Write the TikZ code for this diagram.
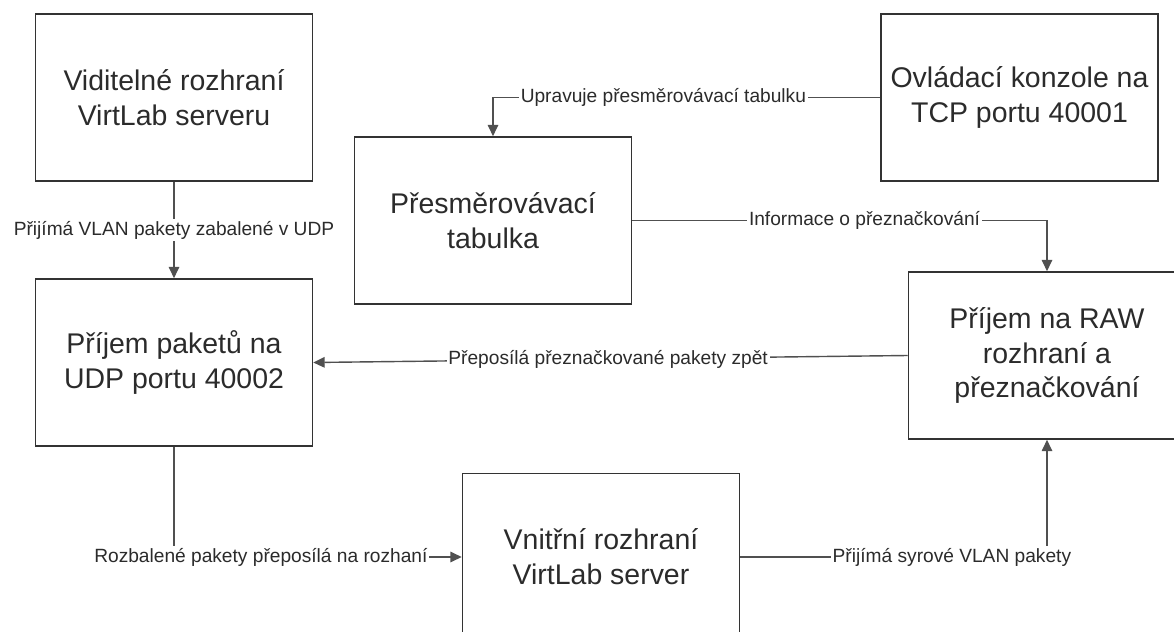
\documentclass[tikz,border=0pt]{standalone}
\usepackage{fontspec}
\setmainfont{Liberation Sans}
\usepackage{tikz}
\usetikzlibrary{arrows.meta}
\definecolor{linegray}{HTML}{505050}
\definecolor{textgray}{HTML}{2B2B2B}

\begin{document}
\begin{tikzpicture}[
            x=0.02cm, y=-0.02cm,          % 1 unit = 1 px of the reference
            every node/.style={
                rectangle,
                draw=black!80,
                line width=0.9pt,
                minimum width=5.54cm,
                minimum height=3.34cm,
                align=center,
                text=textgray,
                font=\fontsize{16.2}{19.9}\selectfont
            },
            >={Triangle[length=6.5pt,width=6pt]},
            arrow/.style={->, draw=linegray, line width=0.8pt},
            edgetext/.style={draw=none, fill=white, minimum width=0pt, minimum height=0pt,
                inner sep=1pt, font=\fontsize{10.9}{13}\selectfont}
        ]
            \useasboundingbox (0,0) rectangle (1174,632);
            \clip (0,0) rectangle (1174,632);

            % nodes
            \node (1) at (174,97.5) {Viditelné rozhraní\\VirtLab serveru};
            \node (2) at (1019.5,97.5) {Ovládací konzole na\\TCP portu 40001};
            \node (3) at (493,220.5) {Přesměrovávací\\tabulka};
            \node (4) at (174,362.5) {Příjem paketů na\\UDP portu 40002};
            \node (5) at (1047,355.5) {Příjem na RAW\\rozhraní a\\přeznačkování};  % cut at the right border
            \node (6) at (601,557) {Vnitřní rozhraní\\VirtLab server};             % cut at the bottom border

            % edges
            \draw[arrow] (1) -- node[edgetext] {Přijímá VLAN pakety zabalené v UDP} (4);
            \draw[arrow] (2.west) -- node[edgetext, pos=0.56] {Upravuje přesměrovávací tabulku} (3.north |- 2.west) -- (3.north);
            \draw[arrow] (3.east) -- node[edgetext, pos=0.56] {Informace o přeznačkování} (5.north |- 3.east) -- (5.north);
            \draw[arrow] (5.west) -- node[edgetext, pos=0.504] {Přeposílá přeznačkované pakety zpět} (4.east);
            \draw[arrow] (4.south) |- node[edgetext, pos=0.651] {Rozbalené pakety přeposílá na rozhaní} (6.west);
            \draw[arrow] (6.east) -| node[edgetext, pos=0.345] {Přijímá syrové VLAN pakety} (5.south);
        \end{tikzpicture}
\end{document}
